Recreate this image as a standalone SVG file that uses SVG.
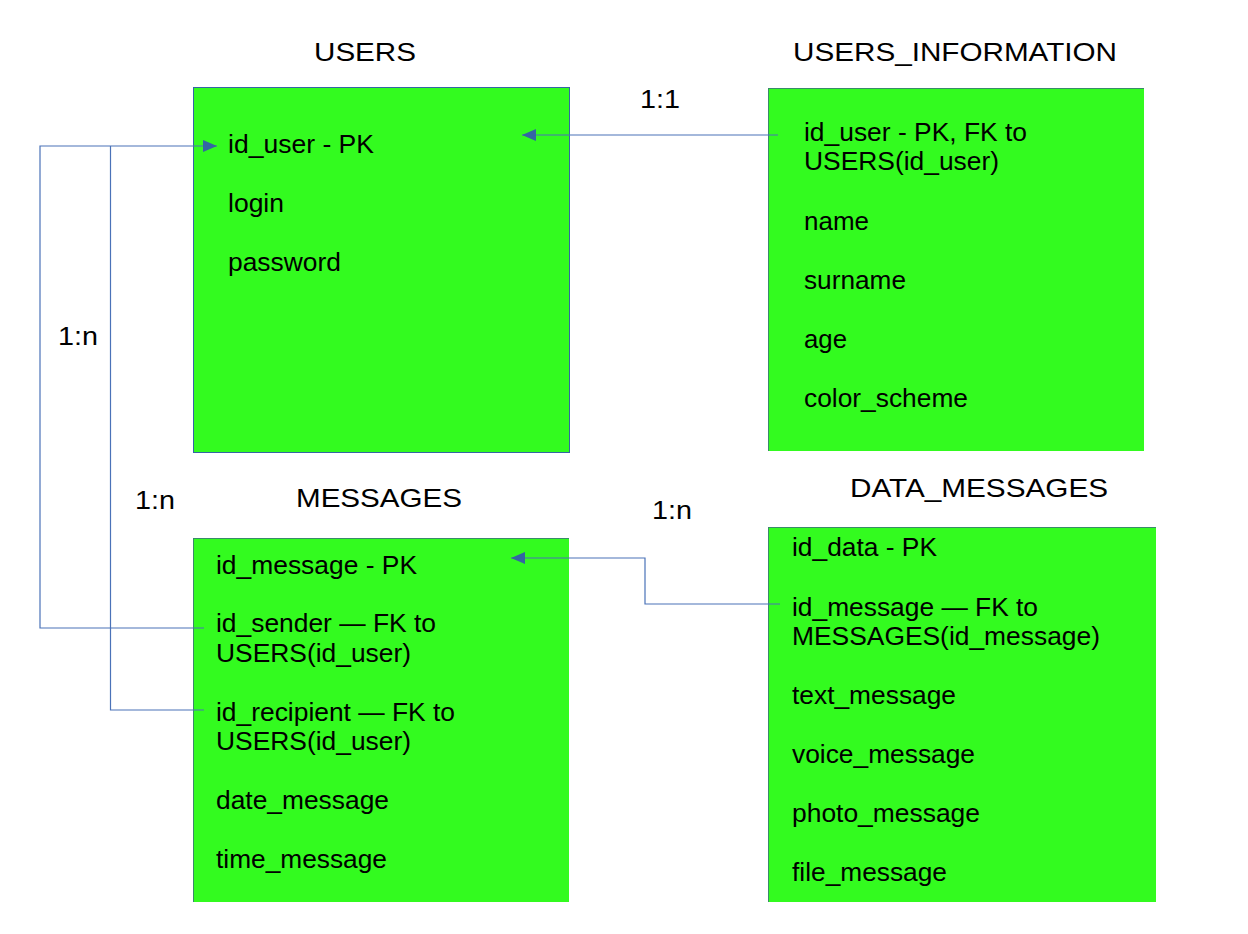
<svg xmlns="http://www.w3.org/2000/svg" width="1248" height="934" viewBox="0 0 1248 934">
<style>
text{font-family:"Liberation Sans",Arial,sans-serif;font-size:25px;fill:#000}
.t{font-size:25.5px}
.box{fill:#33fb1f;stroke:#3465a4;stroke-width:1}
.con{fill:none;stroke:#4a72b8;stroke-width:1.2}
</style>
<defs>
<marker id="ah" viewBox="0 0 14 12" refX="14" refY="6" markerWidth="14" markerHeight="12" markerUnits="userSpaceOnUse" orient="auto">
<path d="M0,0 L14,6 L0,12 Z" fill="#3465a4"/>
</marker>
</defs>
<rect width="1248" height="934" fill="#fff"/>
<g id="users">
<rect class="box" x="193.5" y="87.5" width="376" height="365"/>
<text class="t" x="314" y="61" textLength="102" lengthAdjust="spacingAndGlyphs">USERS</text>
<text x="228" y="153" textLength="146" lengthAdjust="spacingAndGlyphs">id_user - PK</text>
<text x="228" y="212" textLength="56" lengthAdjust="spacingAndGlyphs">login</text>
<text x="228" y="271" textLength="113" lengthAdjust="spacingAndGlyphs">password</text>
</g>
<g id="users_information">
<rect x="768" y="88" width="376" height="363" fill="#33fb1f"/>
<line x1="768.5" y1="88" x2="768.5" y2="451" stroke="#3a8a6a" stroke-width="1"/>
<line x1="768" y1="88.5" x2="1144" y2="88.5" stroke="#3a8a6a" stroke-width="1"/>
<text class="t" x="793" y="61" textLength="324" lengthAdjust="spacingAndGlyphs">USERS_INFORMATION</text>
<text x="804" y="141" textLength="223" lengthAdjust="spacingAndGlyphs">id_user - PK, FK to</text>
<text x="804" y="170" textLength="195" lengthAdjust="spacingAndGlyphs">USERS(id_user)</text>
<text x="804" y="230" textLength="65" lengthAdjust="spacingAndGlyphs">name</text>
<text x="804" y="289" textLength="102" lengthAdjust="spacingAndGlyphs">surname</text>
<text x="804" y="348" textLength="43" lengthAdjust="spacingAndGlyphs">age</text>
<text x="804" y="407" textLength="164" lengthAdjust="spacingAndGlyphs">color_scheme</text>
</g>
<g id="messages">
<rect x="193" y="538" width="376" height="364" fill="#33fb1f"/>
<line x1="193.5" y1="538" x2="193.5" y2="902" stroke="#3a8a6a" stroke-width="1"/>
<line x1="193" y1="538.5" x2="569" y2="538.5" stroke="#3a8a6a" stroke-width="1"/>
<text class="t" x="296" y="507" textLength="166" lengthAdjust="spacingAndGlyphs">MESSAGES</text>
<text x="216" y="574" textLength="201" lengthAdjust="spacingAndGlyphs">id_message - PK</text>
<text x="216" y="632" textLength="220" lengthAdjust="spacingAndGlyphs">id_sender — FK to</text>
<text x="216" y="662" textLength="195" lengthAdjust="spacingAndGlyphs">USERS(id_user)</text>
<text x="216" y="721" textLength="239" lengthAdjust="spacingAndGlyphs">id_recipient — FK to</text>
<text x="216" y="750" textLength="195" lengthAdjust="spacingAndGlyphs">USERS(id_user)</text>
<text x="216" y="809" textLength="173" lengthAdjust="spacingAndGlyphs">date_message</text>
<text x="216" y="868" textLength="171" lengthAdjust="spacingAndGlyphs">time_message</text>
</g>
<g id="data_messages">
<rect x="768" y="527" width="388" height="375" fill="#33fb1f"/>
<line x1="768.5" y1="527" x2="768.5" y2="902" stroke="#3a8a6a" stroke-width="1"/>
<line x1="768" y1="527.5" x2="1156" y2="527.5" stroke="#3a8a6a" stroke-width="1"/>
<text class="t" x="850" y="497" textLength="258" lengthAdjust="spacingAndGlyphs">DATA_MESSAGES</text>
<text x="792" y="556" textLength="145" lengthAdjust="spacingAndGlyphs">id_data - PK</text>
<text x="792" y="616" textLength="246" lengthAdjust="spacingAndGlyphs">id_message — FK to</text>
<text x="792" y="645" textLength="308" lengthAdjust="spacingAndGlyphs">MESSAGES(id_message)</text>
<text x="792" y="704" textLength="164" lengthAdjust="spacingAndGlyphs">text_message</text>
<text x="792" y="763" textLength="183" lengthAdjust="spacingAndGlyphs">voice_message</text>
<text x="792" y="822" textLength="188" lengthAdjust="spacingAndGlyphs">photo_message</text>
<text x="792" y="881" textLength="155" lengthAdjust="spacingAndGlyphs">file_message</text>
</g>
<g id="connectors">
<path class="con" d="M778,135 H522" marker-end="url(#ah)"/>
<path class="con" d="M204,628 H40 V146 H217" marker-end="url(#ah)"/>
<path class="con" d="M204,710 H110.5 V146"/>
<path class="con" d="M780,604 H645 V558 H511" marker-end="url(#ah)"/>
<text x="640" y="108" textLength="40" lengthAdjust="spacingAndGlyphs">1:1</text>
<text x="58" y="345" textLength="40" lengthAdjust="spacingAndGlyphs">1:n</text>
<text x="135" y="509" textLength="40" lengthAdjust="spacingAndGlyphs">1:n</text>
<text x="652" y="519" textLength="40" lengthAdjust="spacingAndGlyphs">1:n</text>
</g>
</svg>
